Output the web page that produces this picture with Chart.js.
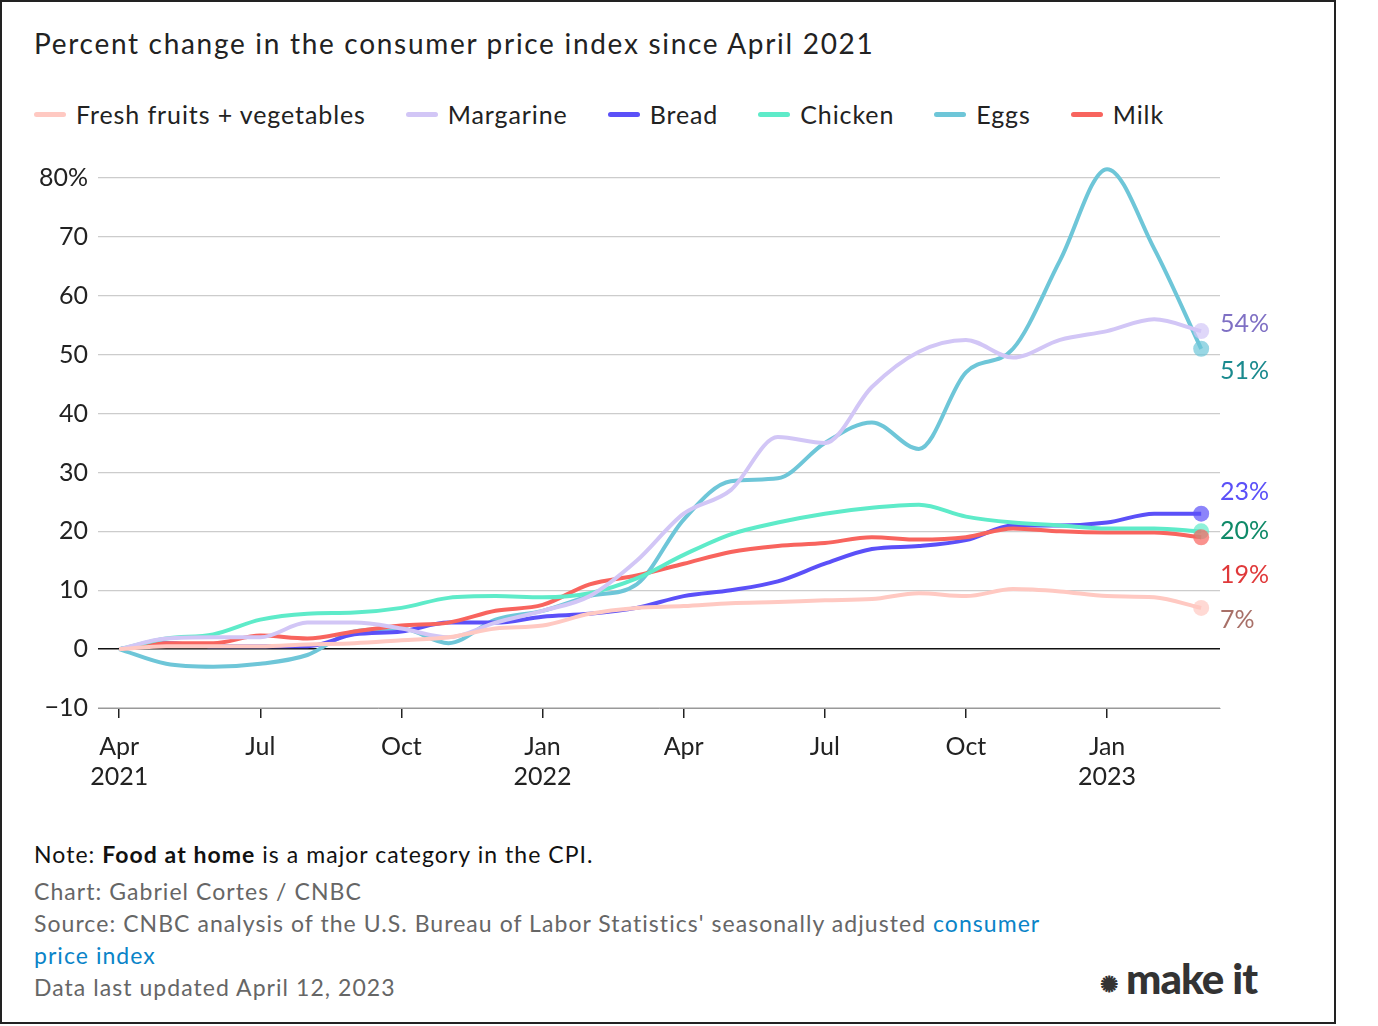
<!DOCTYPE html><html><head><meta charset="utf-8">
<script src="https://cdn.jsdelivr.net/npm/chart.js@4"></script>
<style>
body{margin:0;width:1378px;height:1026px;background:#fff;font-family:Lato,"Noto Sans",sans-serif;color:#222;position:relative;overflow:hidden}
#frame{position:absolute;left:0;top:0;width:1336px;height:1024px;border:2px solid #222;box-sizing:border-box}
#title{position:absolute;left:34px;top:26px;font-size:28px;letter-spacing:1.7px}
#legend{position:absolute;left:34px;top:99px;font-size:25px;display:flex;letter-spacing:0.9px}
#legend span{display:flex;align-items:center;margin-right:40px}
#legend i{display:inline-block;width:32px;height:5px;border-radius:3px;margin-right:10px}
#c{position:absolute;left:0;top:0}
.n{position:absolute;left:34px;font-size:23px;color:#666;letter-spacing:1.05px}
#logo{position:absolute;left:1100px;top:953px;font-size:42px;font-weight:900;color:#333;letter-spacing:-1px}
</style></head><body>
<div id="frame"></div>
<div id="title">Percent change in the consumer price index since April 2021</div>
<div id="legend"></div>
<canvas id="c" width="1378" height="820" style="width:1378px;height:820px"></canvas>
<div class="n" style="top:840px;color:#111">Note: <b>Food at home</b> is a major category in the CPI.</div>
<div class="n" style="top:877px">Chart: Gabriel Cortes / CNBC</div>
<div class="n" style="top:909px">Source: CNBC analysis of the U.S. Bureau of Labor Statistics' seasonally adjusted <span style="color:#0a84c8">consumer</span></div>
<div class="n" style="top:941px;color:#0a84c8">price index</div>
<div class="n" style="top:973px">Data last updated April 12, 2023</div>
<div id="logo"><span style="font-size:22px;vertical-align:middle">✺</span> make it</div>
<script>
const months=["Apr 2021","May","Jun","Jul","Aug","Sep","Oct","Nov","Dec","Jan 2022","Feb","Mar","Apr","May","Jun","Jul","Aug","Sep","Oct","Nov","Dec","Jan 2023","Feb","Mar"];
const tickLabels={0:["Apr","2021"],3:["Jul"],6:["Oct"],9:["Jan","2022"],12:["Apr"],15:["Jul"],18:["Oct"],21:["Jan","2023"]};
const fresh=[0,0.5,0.5,0.5,0.8,1,1.5,2,3.5,4,6,7,7.3,7.8,8,8.3,8.5,9.5,9,10.2,9.8,9,8.8,7];
const margarine=[0,1.8,2,2,4.5,4.5,3.5,2,4.5,6.5,9,15,23,27,36,35,44.5,50.5,52.5,49.5,52.5,54,56,54];
const bread=[0,1,0.5,0.5,0.5,2.5,3,4.5,4.5,5.5,6,7,9,10,11.5,14.5,17,17.5,18.5,21,21,21.5,23,23];
const chicken=[0,1.8,2.5,5,6,6.2,7,8.7,9,8.8,9.5,12,16,19.5,21.5,23,24,24.5,22.5,21.5,21,20.5,20.5,20];
const eggs=[0,-2.5,-3,-2.5,-1,3,3.5,1,5,6.5,9,11,22,28.5,29,35,38.5,34,47,51,66,81.5,68,51];
const milk=[0,1,1,2.3,1.8,3,4,4.5,6.5,7.5,11,12.5,14.5,16.5,17.5,18,19,18.6,19,20.5,20,19.8,19.8,19];
const series=[
 {name:"Fresh fruits + vegetables",data:fresh,color:"#ffc9c2",lab:"7%",lc:"#a87068",dy:12},
 {name:"Margarine",data:margarine,color:"#d2c6f6",lab:"54%",lc:"#7f70c4",dy:-7},
 {name:"Bread",data:bread,color:"#5b50f8",lab:"23%",lc:"#5b50f8",dy:-22},
 {name:"Chicken",data:chicken,color:"#5eebc9",lab:"20%",lc:"#0f8a68",dy:0},
 {name:"Eggs",data:eggs,color:"#6ec6d8",lab:"51%",lc:"#1a8a8e",dy:22},
 {name:"Milk",data:milk,color:"#f8645e",lab:"19%",lc:"#e0393a",dy:38}];
const order=[0,1,3,5,2,4];
document.getElementById('legend').innerHTML=series.map(s=>`<span><i style="background:${s.color}"></i>${s.name}</span>`).join('');
const labelPlugin={id:'lab',afterDatasetsDraw(ch){const c=ch.ctx,x=ch.scales.x,y=ch.scales.y;
 c.save();
 series.forEach(s=>{const v=s.data[23];const px=x.getPixelForValue(23),py=y.getPixelForValue(v);
  c.globalAlpha=0.7;c.fillStyle=s.color;c.beginPath();c.arc(px,py,8,0,7);c.fill();});
 c.globalAlpha=1;c.font='25px Lato';c.textBaseline='middle';
 series.forEach(s=>{const py=y.getPixelForValue(s.data[23]);c.fillStyle=s.lc;c.fillText(s.lab,1220,py+s.dy);});
 c.restore();}};
new Chart(document.getElementById('c'),{type:'line',
 data:{datasets:order.map(i=>{const s=series[i];return{label:s.name,data:s.data.map((v,k)=>({x:k,y:v})),borderColor:s.color,borderWidth:4,pointRadius:0,tension:0.4,cubicInterpolationMode:'monotone',clip:false};})},
 options:{responsive:false,animation:false,layout:{padding:{top:178,right:158,left:0,bottom:0}},
  plugins:{legend:{display:false},tooltip:{enabled:false}},
  scales:{
   x:{type:'linear',min:-0.45,max:23.4,afterFit(s){s.height=112;},
    afterBuildTicks(s){s.ticks=[0,3,6,9,12,15,18,21].map(v=>({value:v}));},
    ticks:{autoSkip:false,maxRotation:0,padding:14,color:'#222',font:{family:'Lato',size:25},callback:v=>tickLabels[v]||''},
    grid:{drawOnChartArea:false,drawTicks:true,tickLength:10,color:'#222',lineWidth:1.5},border:{color:'#999'}},
   y:{min:-10,max:80,afterFit(s){s.width=98;},
    ticks:{stepSize:10,padding:10,color:'#222',font:{family:'Lato',size:25},callback:v=>v==80?'80%':(v<0?'−'+(-v):v)},
    grid:{drawTicks:false,color:c=>c.tick.value==0?'#111':'#ccc',lineWidth:c=>c.tick.value==0?1.5:1.2},border:{display:false}}}},
 plugins:[labelPlugin]});
</script></body></html>
